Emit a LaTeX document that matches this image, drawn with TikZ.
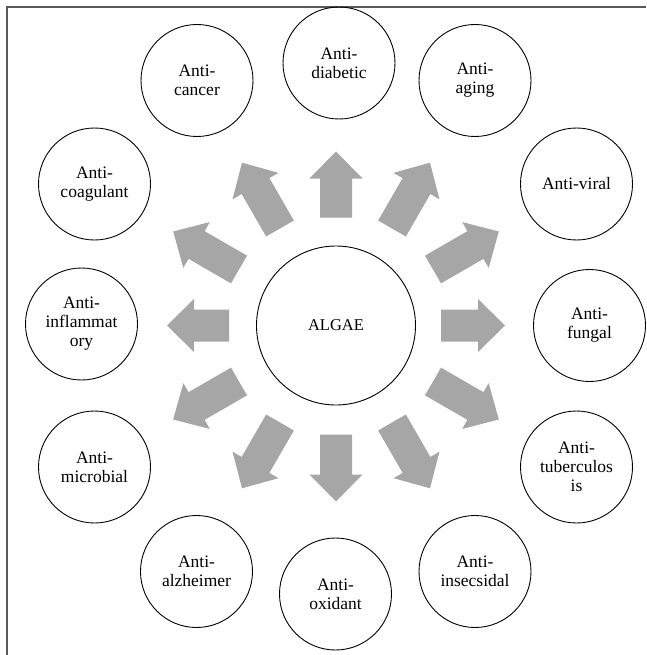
\documentclass[tikz,border=0pt]{standalone}
\usepackage{fontspec}
\setmainfont{Liberation Serif}
\definecolor{arrowgray}{RGB}{166,166,166}
\tikzset{
  bub/.style={circle, draw=black, line width=0.9pt, minimum size=112pt, inner sep=0pt,
    align=center, font=\fontsize{17.5}{19}\selectfont},
  core/.style={bub, minimum size=159pt, font=\fontsize{16.5}{19}\selectfont},
  blockarrow/.style={fill=arrowgray, draw=none},
  frameline/.style={line width=1.3pt, draw=black!65}
}
\begin{document}
\begin{tikzpicture}[x=1pt,y=-1pt]
\useasboundingbox (0,0) rectangle (646,655);
\draw[frameline] (7,655) -- (7,7) -- (646,7);

\node[core] (algae) at (336,325.5) {ALGAE};

\node[bub] (diab)  at (339,63)     {Anti-\\diabetic};
\node[bub] (canc)  at (197,80.5)   {Anti-\\cancer};
\node[bub] (aging) at (475,80.5)   {Anti-\\aging};
\node[bub] (coag)  at (94.5,184)   {Anti-\\coagulant};
\node[bub] (viral) at (576.5,184)  {Anti-viral};
\node[bub] (infl)  at (81.5,324)   {Anti-\\inflammat\\ory};
\node[bub] (fung)  at (589.5,325.5) {Anti-\\fungal};
\node[bub] (micro) at (94.5,467)   {Anti-\\microbial};
\node[bub] (tuber) at (576.5,467)  {Anti-\\tuberculos\\is};
\node[bub] (alz)   at (196.5,571.5) {Anti-\\alzheimer};
\node[bub] (insec) at (475,571.5)  {Anti-\\insecsidal};
\node[bub] (oxid)  at (335.5,594)  {Anti-\\oxidant};

\foreach \a/\r/\R in {0/105/169, 90/108/174, 180/107/169, 270/109/176,
  30/112/188, 60/112/188, 120/112/188, 150/112/188,
  210/112/188, 240/112/188, 300/112/188, 330/112/188}{
  \begin{scope}[shift={(algae.center)}, rotate=\a]
    \fill[blockarrow] (\r,-16) -- ({\R-27},-16) -- ({\R-27},-26.5) -- (\R,0)
      -- ({\R-27},26.5) -- ({\R-27},16) -- (\r,16) -- cycle;
  \end{scope}
}
\end{tikzpicture}
\end{document}
